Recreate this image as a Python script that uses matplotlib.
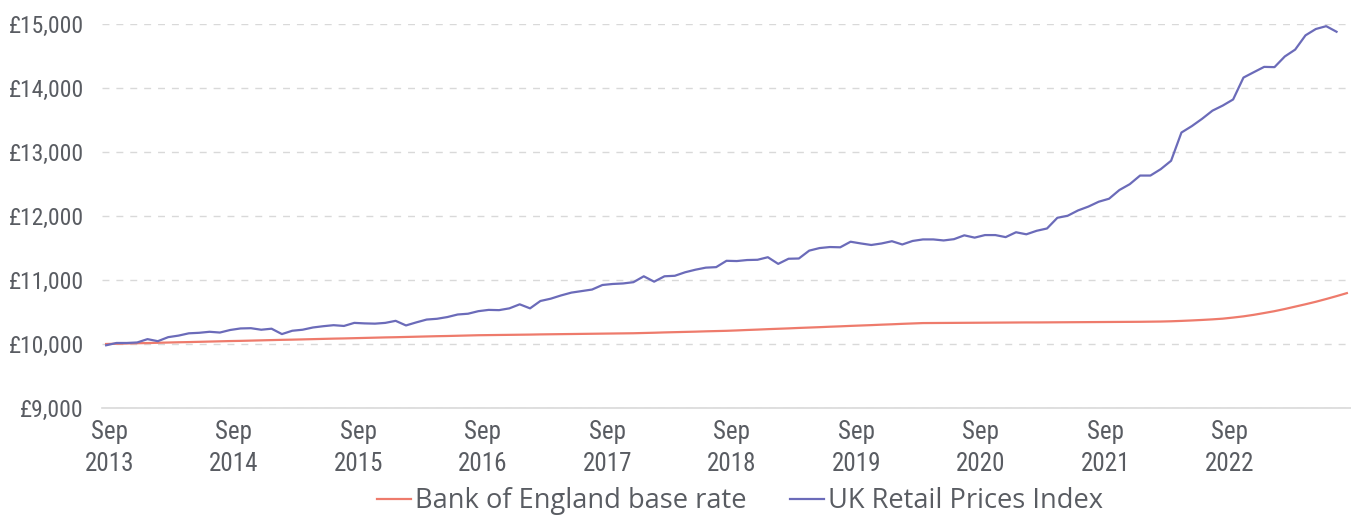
import matplotlib
matplotlib.use("Agg")
import matplotlib.pyplot as plt
from matplotlib import font_manager as fm
from matplotlib.ticker import FuncFormatter

# Monthly series (first point Aug 2013 position, monthly thereafter)
rpi_values = [
    9980, 10016, 10016, 10024, 10076,
    10044, 10107, 10131, 10167, 10175, 10191, 10179, 10219, 10243, 10247, 10223, 10239,
    10155, 10207, 10223, 10258, 10278, 10294, 10282, 10330, 10322, 10318, 10330, 10362,
    10290, 10338, 10382, 10394, 10421, 10461, 10473, 10513, 10533, 10529, 10557, 10620,
    10557, 10672, 10708, 10759, 10803, 10827, 10851, 10922, 10938, 10946, 10966, 11058,
    10974, 11058, 11066, 11121, 11161, 11193, 11201, 11300, 11296, 11312, 11316, 11356,
    11252, 11332, 11336, 11459, 11499, 11515, 11511, 11598, 11571, 11547, 11571, 11606,
    11555, 11610, 11634, 11634, 11618, 11638, 11698, 11662, 11702, 11702, 11670, 11746,
    11714, 11769, 11805, 11972, 12004, 12087, 12147, 12223, 12270, 12406, 12497, 12632,
    12632, 12732, 12863, 13304, 13404, 13519, 13646, 13726, 13821, 14163, 14247, 14330,
    14326, 14493, 14600, 14823, 14922, 14966, 14879,
]

boe_values = [
    10000, 10004, 10008, 10012, 10015, 10019, 10023, 10027, 10030, 10034,
    10038, 10042, 10046, 10049, 10053, 10057, 10061, 10065, 10068, 10072,
    10076, 10080, 10084, 10087, 10091, 10095, 10099, 10103, 10106, 10110,
    10114, 10118, 10122, 10125, 10129, 10133, 10137,
    10139, 10141, 10143, 10145, 10147, 10150, 10152, 10154, 10156, 10158,
    10160, 10162, 10164, 10166, 10168,
    10172, 10176, 10181, 10185, 10189, 10193, 10198, 10202, 10206,
    10212, 10219, 10225, 10232, 10238, 10244, 10251, 10257, 10263, 10270,
    10276, 10283, 10289, 10295, 10302, 10308, 10315, 10321, 10327,
    10328, 10329, 10330, 10331, 10332, 10333, 10334, 10335, 10336, 10337,
    10337, 10338, 10339, 10340, 10341, 10342, 10343, 10344, 10345, 10346, 10347,
    10349, 10351, 10355, 10361, 10368, 10376, 10385, 10396, 10413, 10432,
    10456, 10484, 10513, 10547, 10584, 10621, 10660, 10703, 10748, 10795,
]

tick_labels = ["Sep\n2013", "Sep\n2014", "Sep\n2015", "Sep\n2016", "Sep\n2017",
               "Sep\n2018", "Sep\n2019", "Sep\n2020", "Sep\n2021", "Sep\n2022"]
y_ticks = [9000, 10000, 11000, 12000, 13000, 14000, 15000]

series_names = ["Bank of England base rate", "UK Retail Prices Index"]
colors = ["#ee7b6c", "#6b6bb9"]


def find_narrow_font():
    """Pick an installed condensed / narrow sans face if there is one."""
    cands = []
    for f in fm.fontManager.ttflist:
        nm = f.name.lower()
        path = f.fname.lower()
        if f.style != "normal":
            continue
        if "mono" in nm or "serif" in nm and "sans" not in nm:
            continue
        if "bold" in path or "italic" in path or "light" in path or "thin" in path \
                or "black" in path or "medium" in path or "semi" in path or "extra" in path:
            continue
        is_narrow = ("condensed" in nm or "narrow" in nm or "condensed" in path
                     or "narrow" in path or str(f.stretch) in ("condensed", "semi-condensed"))
        if is_narrow and str(f.weight) in ("400", "normal", "regular", "book"):
            cands.append(f)
    pref = ["roboto", "noto sans", "open sans", "liberation", "dejavu"]
    for p in pref:
        for f in cands:
            if p in f.name.lower():
                return fm.FontProperties(fname=f.fname)
    if cands:
        return fm.FontProperties(fname=cands[0].fname)
    return None


narrow_fp = find_narrow_font()

fig = plt.figure(figsize=(13.51, 5.17), dpi=100)
ax = fig.add_axes([102 / 1351, 1 - 408 / 517, 1 - 102 / 1351, (408 - 24) / 517])

ax.plot(range(len(boe_values)), boe_values, color=colors[0], lw=1.6,
        label=series_names[0], clip_on=False, zorder=3)
ax.plot(range(len(rpi_values)), rpi_values, color=colors[1], lw=1.6,
        label=series_names[1], clip_on=False, zorder=4)

ax.set_xlim(-0.4, 120.4)
ax.set_ylim(9000, 15000)

tick_pos = [0.3 + 12.04 * k for k in range(len(tick_labels))]
ax.set_xticks(tick_pos)
ax.set_xticklabels(tick_labels, linespacing=1.4)
ax.set_yticks(y_ticks)
ax.yaxis.set_major_formatter(FuncFormatter(lambda v, p: f"£{int(v):,}"))

for sp in ["top", "right", "left"]:
    ax.spines[sp].set_visible(False)
ax.spines["bottom"].set_color("#d9d9d9")
ax.spines["bottom"].set_linewidth(1.2)

ax.yaxis.grid(True, color="#d9d9d9", linestyle=(0, (5, 5)), linewidth=1.0)
ax.set_axisbelow(True)

if narrow_fp is not None:
    lab_size = 17
else:
    lab_size = 14.5
ax.tick_params(axis="both", length=0, labelcolor="#595c62", labelsize=lab_size)
ax.tick_params(axis="y", pad=13)
ax.tick_params(axis="x", pad=9)
for lab in ax.get_yticklabels():
    if narrow_fp is not None:
        lab.set_fontproperties(narrow_fp)
        lab.set_fontsize(lab_size)
    else:
        lab.set_family("Roboto")
for lab in ax.get_xticklabels():
    if narrow_fp is not None:
        lab.set_fontproperties(narrow_fp)
        lab.set_fontsize(lab_size + 1)
    else:
        lab.set_family("Roboto")

handles, labels = ax.get_legend_handles_labels()
leg = fig.legend(handles, labels, loc="center", bbox_to_anchor=(0.5477, 0.03),
                 ncol=2, frameon=False, fontsize=19.6, handlelength=1.25,
                 handletextpad=0.15, columnspacing=1.6, labelcolor="#595c62")
for t in leg.get_texts():
    t.set_family("Open Sans")

fig.savefig("out.png", dpi=100)
